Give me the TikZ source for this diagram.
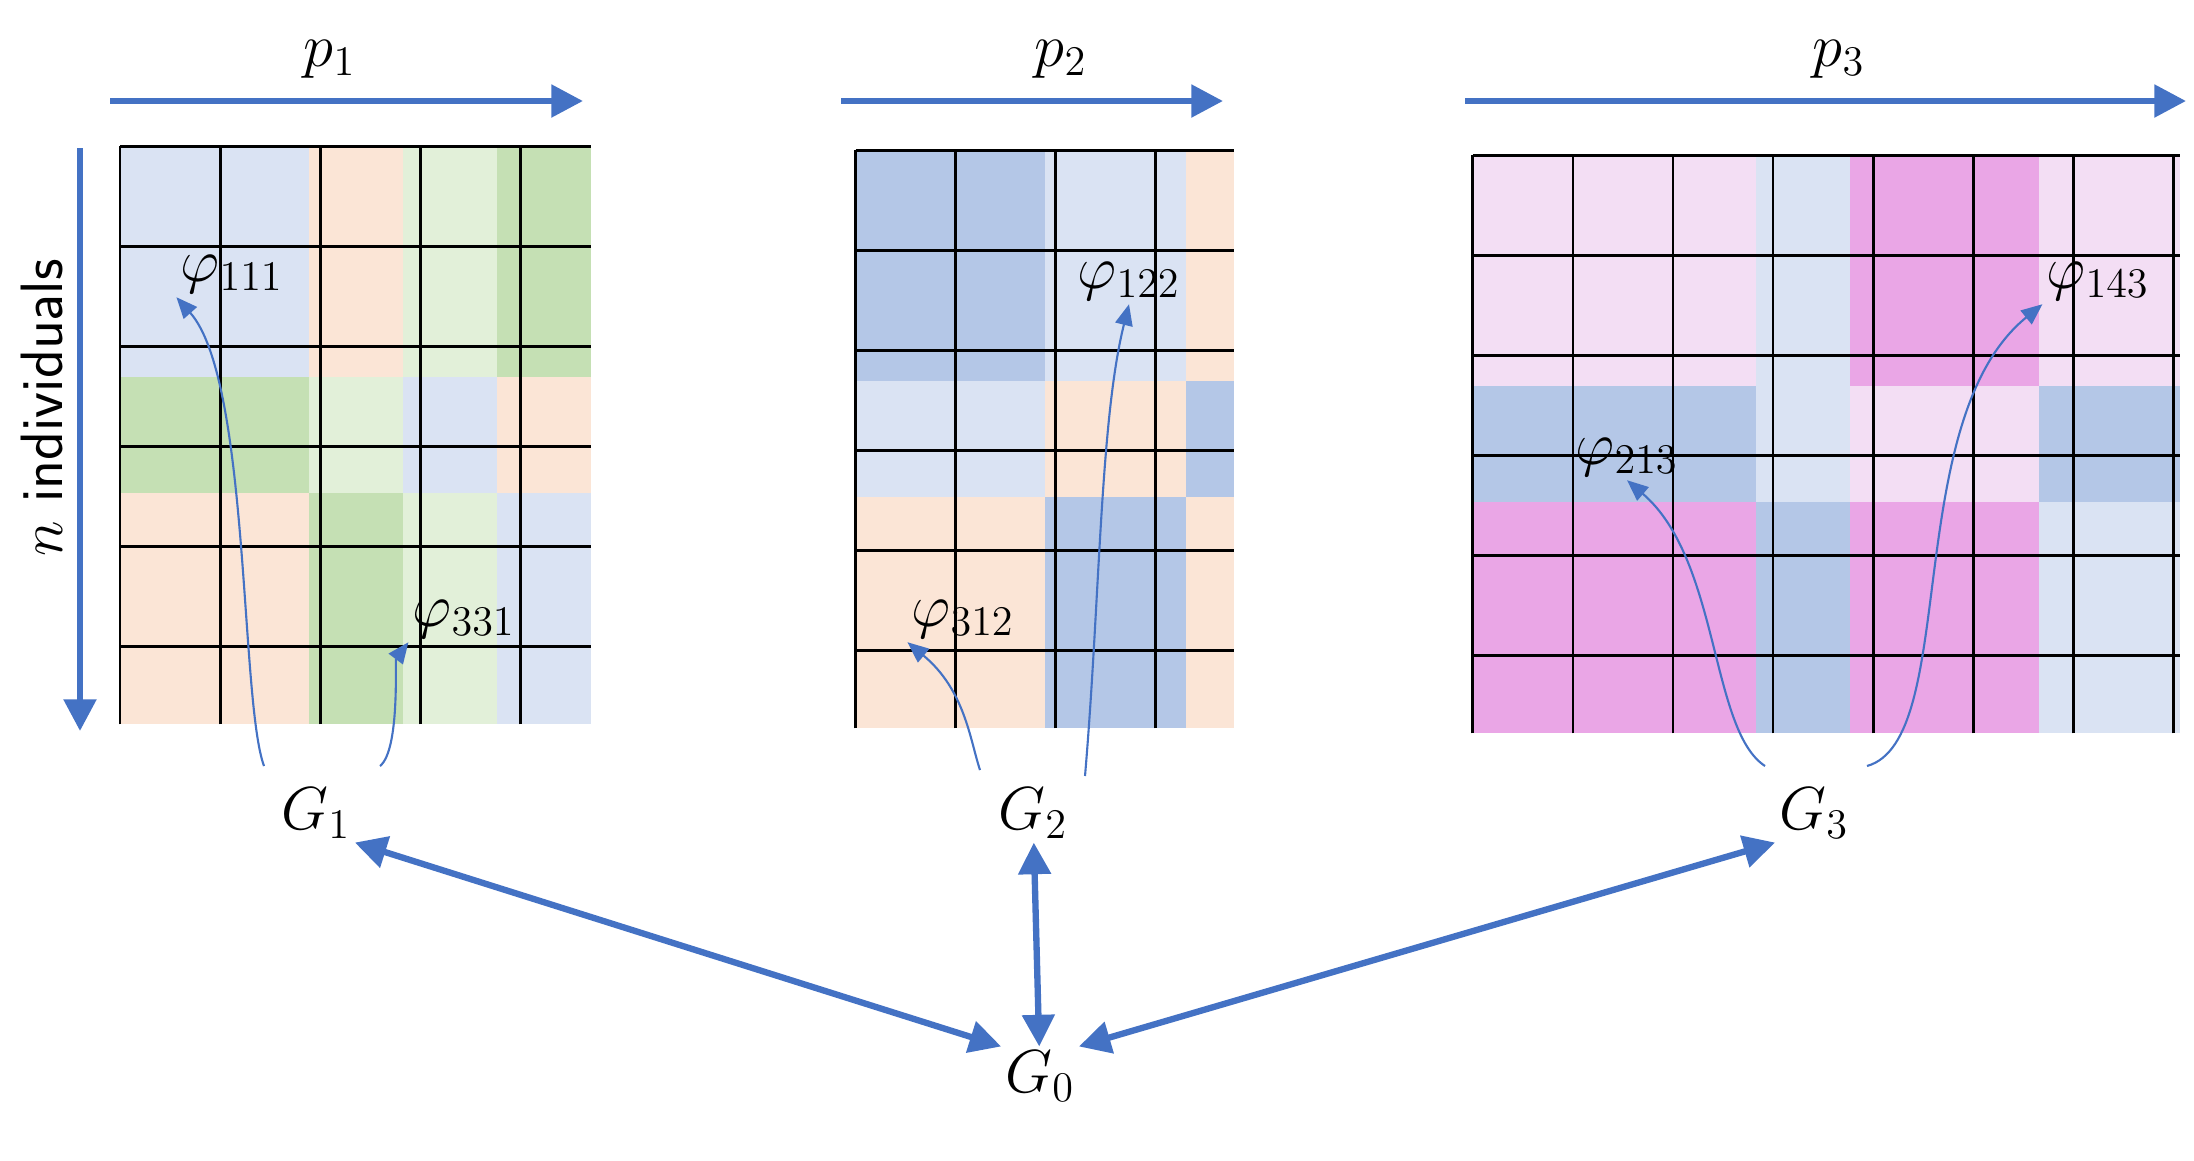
\documentclass[tikz,border=0pt]{standalone}
\usetikzlibrary{arrows.meta}
\definecolor{lblue}{HTML}{DAE3F3}
\definecolor{mblue}{HTML}{B4C7E7}
\definecolor{peach}{HTML}{FBE5D6}
\definecolor{lgreen}{HTML}{E2F0D9}
\definecolor{mgreen}{HTML}{C5E0B4}
\definecolor{lpink}{HTML}{F3DEF4}
\definecolor{mpink}{HTML}{EAA6E6}
\definecolor{arrowblue}{HTML}{4472C4}
\tikzstyle{axis} = [line width=1.8pt, arrowblue, -{Triangle[length=9pt,width=9pt]}]
\tikzstyle{link} = [line width=1.8pt, arrowblue, {Triangle[length=9pt,width=9pt]}-{Triangle[length=9pt,width=9pt]}]
\tikzstyle{pick} = [line width=0.6pt, arrowblue, -{Triangle[length=6pt,width=5pt]}]
\tikzstyle{lab} = [font=\fontsize{18}{20}\selectfont, inner sep=1pt]
\tikzstyle{gridline} = [line width=0.8pt, black]
\begin{document}
\begin{tikzpicture}[x=0.01cm, y=-0.01cm]
    \useasboundingbox (0,0) rectangle (2194,1160);

    % grid 1
    \begin{scope}[xshift=1.20cm, yshift=-1.46cm, x=0.471cm, y=-0.578cm]
        \fill[lblue] (0,0) rectangle (4,4);
        \fill[peach] (4,0) rectangle (6,4);
        \fill[lgreen] (6,0) rectangle (8,4);
        \fill[mgreen] (8,0) rectangle (10,4);
        \fill[mgreen] (0,4) rectangle (4,6);
        \fill[lgreen] (4,4) rectangle (6,6);
        \fill[lblue] (6,4) rectangle (8,6);
        \fill[peach] (8,4) rectangle (10,6);
        \fill[peach] (0,6) rectangle (4,10);
        \fill[mgreen] (4,6) rectangle (6,10);
        \fill[lgreen] (6,6) rectangle (8,10);
        \fill[lblue] (8,6) rectangle (10,10);
        \draw[gridline] (0,0) grid (10,10);
    \end{scope}

    % grid 2
    \begin{scope}[xshift=8.55cm, yshift=-1.50cm, x=0.4725cm, y=-0.578cm]
        \fill[mblue] (0,0) rectangle (4,4);
        \fill[lblue] (4,0) rectangle (7,4);
        \fill[peach] (7,0) rectangle (8,4);
        \fill[lblue] (0,4) rectangle (4,6);
        \fill[peach] (4,4) rectangle (7,6);
        \fill[mblue] (7,4) rectangle (8,6);
        \fill[peach] (0,6) rectangle (4,10);
        \fill[mblue] (4,6) rectangle (7,10);
        \fill[peach] (7,6) rectangle (8,10);
        \draw[gridline] (0,0) grid (8,10);
    \end{scope}

    % grid 3
    \begin{scope}[xshift=14.72cm, yshift=-1.55cm, x=0.4713cm, y=-0.578cm]
        \fill[lpink] (0,0) rectangle (6,4);
        \fill[lblue] (6,0) rectangle (8,4);
        \fill[mpink] (8,0) rectangle (12,4);
        \fill[lpink] (12,0) rectangle (15,4);
        \fill[mblue] (0,4) rectangle (6,6);
        \fill[lblue] (6,4) rectangle (8,6);
        \fill[lpink] (8,4) rectangle (12,6);
        \fill[mblue] (12,4) rectangle (15,6);
        \fill[mpink] (0,6) rectangle (6,10);
        \fill[mblue] (6,6) rectangle (8,10);
        \fill[mpink] (8,6) rectangle (12,10);
        \fill[lblue] (12,6) rectangle (15,10);
        \draw[gridline] (0,0) grid (15,10);
    \end{scope}

    % axes
    \coordinate (p1a) at (110,101);  \coordinate (p1b) at (583,101);
    \coordinate (p2a) at (841,101);  \coordinate (p2b) at (1223,101);
    \coordinate (p3a) at (1465,101); \coordinate (p3b) at (2186,101);
    \coordinate (na) at (80,148);    \coordinate (nb) at (80,731);
    \draw [axis] (p1a) -- (p1b);
    \draw [axis] (p2a) -- (p2b);
    \draw [axis] (p3a) -- (p3b);
    \draw [axis] (na) -- (nb);
    \node (p1) [lab] at (330,59) {$p_1$};
    \node (p2) [lab] at (1061,59) {$p_2$};
    \node (p3) [lab] at (1839,59) {$p_3$};
    \node (nind) [lab, rotate=90, font=\sffamily\fontsize{17}{20}\selectfont] at (42,408) {$n$ individuals};

    % groups
    \node (g1) [lab] at (316,813) {$G_1$};
    \node (g2) [lab] at (1033,813) {$G_2$};
    \node (g3) [lab] at (1814,813) {$G_3$};
    \node (g0) [lab] at (1040,1076) {$G_0$};
    \draw [link] (g1.south east) -- (g0.north west);
    \draw [link] (g2) -- (g0);
    \draw [link] (g3.south west) -- (g0.north east);

    % picked cells
    \node (phi111) [lab] at (232,274) {$\varphi_{111}$};
    \node (phi331) [lab] at (464,619) {$\varphi_{331}$};
    \node (phi122) [lab] at (1129,281) {$\varphi_{122}$};
    \node (phi312) [lab] at (963,619) {$\varphi_{312}$};
    \node (phi143) [lab] at (2098,281) {$\varphi_{143}$};
    \node (phi213) [lab] at (1627,457) {$\varphi_{213}$};
    \coordinate (g1l) at (264,766); \coordinate (g1r) at (380,766);
    \coordinate (g2l) at (980,770); \coordinate (g2r) at (1085,776);
    \coordinate (g3l) at (1765,766); \coordinate (g3r) at (1867,766);
    \draw [pick] (g1l) .. controls (240,700) and (250,380) .. (phi111.south west);
    \draw [pick] (g1r) .. controls (400,750) and (395,660) .. (phi331.south west);
    \draw [pick] (g2l) .. controls (970,740) and (965,690) .. (phi312.south west);
    \draw [pick] (g2r) .. controls (1100,600) and (1100,420) .. (phi122.south);
    \draw [pick] (g3l) .. controls (1710,730) and (1720,560) .. (phi213.south);
    \draw [pick] (g3r) .. controls (1960,740) and (1900,420) .. (phi143.south west);
\end{tikzpicture}
\end{document}
